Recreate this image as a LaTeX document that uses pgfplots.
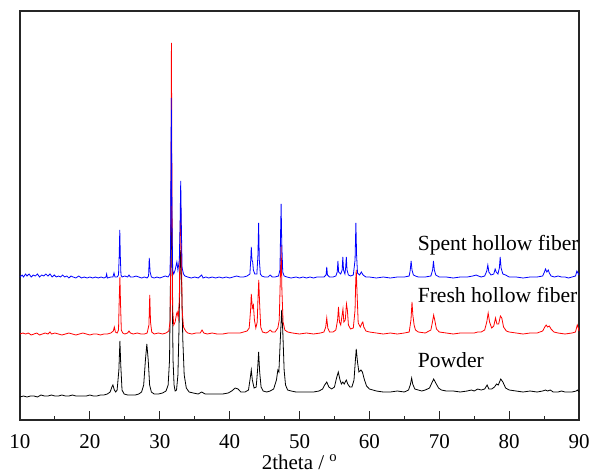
\documentclass[border=0pt]{standalone}
\usepackage{fontspec}
\setmainfont{Liberation Serif}
\usepackage{pgfplots}
\pgfplotsset{compat=1.18}
\begin{document}
\fontsize{21}{25}\selectfont
\begin{tikzpicture}
\begin{axis}[
 scale only axis, width=559pt, height=409pt,
 xmin=10, xmax=90, ymin=0, ymax=409,
 xtick={10,20,...,90}, minor x tick num=1,
 ytick=\empty,
 tick align=inside, xtick pos=left,
 major tick length=9pt, minor tick length=4.5pt,
 axis line style={line width=1.3pt, black!85},
 every tick/.style={line width=1pt, black!85},
 tick label style={font=\fontsize{21}{25}\selectfont},
 xticklabel style={yshift=-7pt},
 /pgf/number format/assume math mode=true,
 xlabel={2theta / \textsuperscript{o}},
 xlabel style={font=\fontsize{21}{25}\selectfont, yshift=8pt},
 clip=false,
]
% Powder
\addplot[black, line width=0.8pt] coordinates {
(10,23)(10.5,24)(11,23)(11.5,24)(12,24)(12.5,23)(13,25)(13.5,24)(14,24)(14.5,25)(15,24)(15.5,24)(16,25)(16.5,24)(17,24)(17.5,25)(18,24)(18.5,24)(19,24)(19.5,24)(20,25)(20.5,24)(21,24)(21.5,25)(22,25)(22.5,26)(22.9,28)(23.15,33)(23.3,35)(23.5,30)(23.7,28)(23.9,30)(24.15,50)(24.3,79)(24.42,55)(24.6,30)(24.9,26)(25.4,25)(26,25)(26.5,25)(27,26)(27.4,28)(27.7,35)(27.95,60)(28.15,76)(28.35,60)(28.55,35)(28.8,28)(29.2,26)(29.8,26)(30.4,27)(30.9,29)(31.2,35)(31.4,60)(31.55,150)(31.65,250)(31.75,160)(31.9,60)(32.05,35)(32.2,29)(32.4,30)(32.6,45)(32.75,90)(32.9,150)(33.0,170)(33.12,140)(33.3,80)(33.5,45)(33.8,32)(34.2,28)(34.8,27)(35.5,26)(36,28)(36.5,26)(37,26)(38,26)(39,26)(39.8,27)(40.3,29)(40.8,32)(41.2,31)(41.6,28)(42.2,28)(42.7,30)(42.95,42)(43.1,50)(43.25,40)(43.5,32)(43.8,33)(44.0,50)(44.15,68)(44.3,48)(44.5,33)(44.8,29)(45.3,28)(45.8,29)(46.3,31)(46.7,40)(46.9,50)(47.05,48)(47.25,80)(47.45,110)(47.6,90)(47.8,50)(48.0,35)(48.3,30)(48.8,29)(49.5,28)(50,28)(51,28)(52,28)(52.8,29)(53.3,31)(53.6,35)(53.9,38)(54.2,33)(54.6,31)(55.0,33)(55.3,42)(55.55,48)(55.8,40)(56.0,36)(56.2,38)(56.4,36)(56.7,40)(56.9,36)(57.2,33)(57.5,33)(57.8,40)(58.0,60)(58.12,71)(58.3,58)(58.5,48)(58.8,50)(59.0,48)(59.3,40)(59.6,34)(60,31)(60.5,30)(61,29)(62,28)(63,28)(64,29)(65,28)(65.6,30)(65.85,35)(66.05,42)(66.2,36)(66.5,31)(67,30)(67.5,29)(68,30)(68.6,32)(69.0,38)(69.2,41)(69.5,37)(69.9,32)(70.3,30)(71,29)(72,29)(73,28)(74,29)(74.6,30)(75,29)(75.5,31)(76,30)(76.5,31)(76.85,35)(77.1,31)(77.5,31)(77.9,33)(78.2,36)(78.45,35)(78.8,41)(79.1,38)(79.5,32)(80,30)(81,29)(82,28)(83,29)(84,28)(84.8,29)(85.2,30)(85.5,29)(85.9,30)(86.3,28)(87,28)(87.5,29)(88,28)(89,28)(89.6,29)(89.8,30)(90,28)
};
% Fresh hollow fiber
\addplot[red, line width=0.8pt] coordinates {
(10,86)(10.4,87)(10.8,86)(11.2,87)(11.6,85)(12,86)(12.4,87)(12.8,85)(13.2,86)(13.6,87)(14,86)(14.3,88)(14.5,86)(15,87)(15.5,86)(16,85)(16.5,86)(17,87)(17.5,86)(18,85)(18.5,86)(19,87)(19.5,86)(20,85)(20.5,86)(21,86)(21.5,85)(22,86)(22.5,86)(23,87)(23.35,89)(23.5,93)(23.65,88)(23.9,87)(24.1,90)(24.2,120)(24.3,143)(24.38,118)(24.5,90)(24.7,87)(25,86)(25.4,87)(25.6,89)(25.8,87)(26.2,86)(26.8,87)(27.3,86)(27.8,86)(28.2,87)(28.45,95)(28.57,125)(28.68,98)(28.85,88)(29.2,86)(29.8,87)(30.4,86)(30.9,87)(31.3,89)(31.5,100)(31.6,200)(31.67,377)(31.75,220)(31.85,110)(32.0,95)(32.2,98)(32.4,106)(32.5,108)(32.65,102)(32.8,120)(32.9,180)(33.0,215)(33.1,170)(33.2,110)(33.4,93)(33.7,89)(34,87)(34.6,86)(35.2,87)(35.8,87)(36.05,90)(36.3,87)(36.8,86)(37.5,87)(38.2,86)(39,86)(39.8,87)(40.5,87)(41,87)(41.5,87)(42,88)(42.5,89)(42.8,92)(43.0,110)(43.1,126)(43.25,112)(43.4,115)(43.55,100)(43.75,92)(43.95,98)(44.05,120)(44.17,140)(44.28,118)(44.45,93)(44.7,88)(45.2,87)(45.5,88)(45.8,90)(46.1,88)(46.5,88)(46.9,92)(47.1,100)(47.25,140)(47.37,175)(47.48,130)(47.65,98)(47.9,90)(48.3,88)(49,87)(50,86)(51,87)(52,86)(53,87)(53.5,88)(53.75,93)(53.9,102)(54.05,92)(54.3,88)(54.8,88)(55.2,90)(55.45,100)(55.58,113)(55.72,98)(55.9,95)(56.1,105)(56.22,111)(56.35,98)(56.55,100)(56.72,116)(56.85,110)(57.0,95)(57.3,91)(57.7,92)(57.95,110)(58.05,140)(58.12,150)(58.22,130)(58.4,97)(58.7,93)(58.95,97)(59.06,98)(59.2,93)(59.5,89)(60,88)(61,87)(62,86)(63,87)(64,86)(65,87)(65.7,88)(65.95,100)(66.1,118)(66.22,105)(66.4,95)(66.6,90)(67,88)(68,87)(68.8,90)(69.0,97)(69.2,105)(69.35,100)(69.6,91)(70,88)(71,87)(72,86)(73,87)(74,87)(75,87)(75.5,88)(76,88)(76.5,90)(76.8,98)(77.0,107)(77.2,98)(77.5,92)(77.8,94)(78.05,102)(78.25,96)(78.5,96)(78.75,104)(78.95,102)(79.2,93)(79.6,89)(80,88)(81,87)(82,86)(83,87)(84,87)(84.8,89)(85.1,93)(85.3,95)(85.5,93)(85.75,94)(86,91)(86.4,88)(87,87)(88,86)(89,87)(89.5,88)(89.75,95)(89.9,92)(90,89)
};
% Spent hollow fiber
\addplot[blue, line width=0.8pt] coordinates {
(10,143)(10.3,145)(10.5,143)(10.8,146)(11.0,144)(11.3,146)(11.6,143)(11.9,145)(12.2,144)(12.5,146)(12.8,143)(13.1,145)(13.4,144)(13.7,146)(14,144)(14.3,146)(14.6,143)(14.9,145)(15.2,143)(15.5,144)(15.8,143)(16.1,145)(16.4,143)(16.7,144)(17,142)(17.3,144)(17.6,143)(18,142)(18.4,144)(18.8,142)(19.2,143)(19.6,142)(20,143)(20.4,142)(20.8,143)(21.2,142)(21.6,143)(22,142)(22.3,143)(22.4,146)(22.5,142)(23,143)(23.3,143)(23.45,147)(23.6,143)(23.9,143)(24.1,145)(24.2,165)(24.28,190)(24.36,163)(24.45,145)(24.6,143)(25,144)(25.4,143)(25.6,145)(25.8,143)(26.2,143)(26.6,144)(27,143)(27.4,142)(27.8,143)(28.2,142)(28.4,144)(28.5,162)(28.62,148)(28.8,143)(29.2,142)(29.6,143)(30,142)(30.4,143)(30.8,144)(31.2,143)(31.45,146)(31.55,170)(31.65,322)(31.75,200)(31.85,150)(32.0,146)(32.2,150)(32.45,158)(32.6,150)(32.8,160)(32.92,200)(33.0,239)(33.1,190)(33.2,152)(33.4,146)(33.6,144)(34,143)(34.5,142)(35,143)(35.5,142)(36,145)(36.2,142)(36.6,143)(37,142)(37.5,143)(38,142)(38.5,143)(39,142)(39.5,143)(40,142)(40.5,143)(41,144)(41.5,143)(42,143)(42.5,144)(42.9,146)(43.02,160)(43.1,173)(43.2,160)(43.3,158)(43.4,150)(43.6,146)(43.9,146)(44.05,165)(44.15,197)(44.25,160)(44.4,146)(44.6,144)(45,143)(45.5,143)(45.8,145)(46.1,143)(46.5,143)(47,144)(47.2,150)(47.3,190)(47.37,216)(47.45,180)(47.6,148)(47.8,144)(48.2,143)(48.8,142)(49.5,143)(50,142)(50.5,143)(51,142)(51.5,143)(52,142)(52.5,143)(53,143)(53.5,143)(53.8,145)(53.9,153)(54.0,145)(54.3,143)(54.8,143)(55.2,144)(55.4,148)(55.5,159)(55.6,148)(55.9,146)(56.1,150)(56.2,163)(56.3,150)(56.5,146)(56.6,152)(56.7,163)(56.8,150)(57.0,145)(57.3,144)(57.7,145)(57.95,160)(58.07,197)(58.17,165)(58.3,147)(58.6,145)(58.85,148)(59.1,145)(59.5,143)(60,143)(61,142)(62,143)(63,142)(64,143)(65,143)(65.7,144)(65.85,150)(65.97,159)(66.1,150)(66.3,145)(66.6,144)(67,143)(68,143)(68.8,144)(69.05,150)(69.17,159)(69.3,150)(69.5,145)(70,143)(71,143)(72,142)(73,143)(74,143)(74.8,144)(75.3,145)(75.6,144)(76,143)(76.5,144)(76.8,149)(76.95,155)(77.1,148)(77.4,145)(77.8,146)(78.0,151)(78.15,148)(78.4,146)(78.6,152)(78.72,163)(78.85,152)(79.1,146)(79.5,145)(80,143)(81,143)(82,142)(83,143)(84,143)(84.8,144)(85.05,148)(85.2,151)(85.4,148)(85.6,150)(85.75,147)(86,144)(86.5,143)(87,144)(87.5,143)(88,143)(88.5,142)(89,143)(89.5,144)(89.7,149)(89.85,147)(90,145)
};
\node[anchor=base west, inner sep=0pt, font=\fontsize{21.6}{25}\selectfont] at (axis cs:66.9,169.3) {Spent hollow fiber};
\node[anchor=base west, inner sep=0pt, font=\fontsize{21.6}{25}\selectfont] at (axis cs:66.9,117.3) {Fresh hollow fiber};
\node[anchor=base west, inner sep=0pt, font=\fontsize{21.6}{25}\selectfont] at (axis cs:66.9,52.7) {Powder};
\end{axis}
\pgfresetboundingbox
\path[use as bounding box] ([shift={(-20pt,11pt)}]current axis.north west) rectangle ([shift={(13pt,-54pt)}]current axis.south east);
\end{tikzpicture}
\end{document}
